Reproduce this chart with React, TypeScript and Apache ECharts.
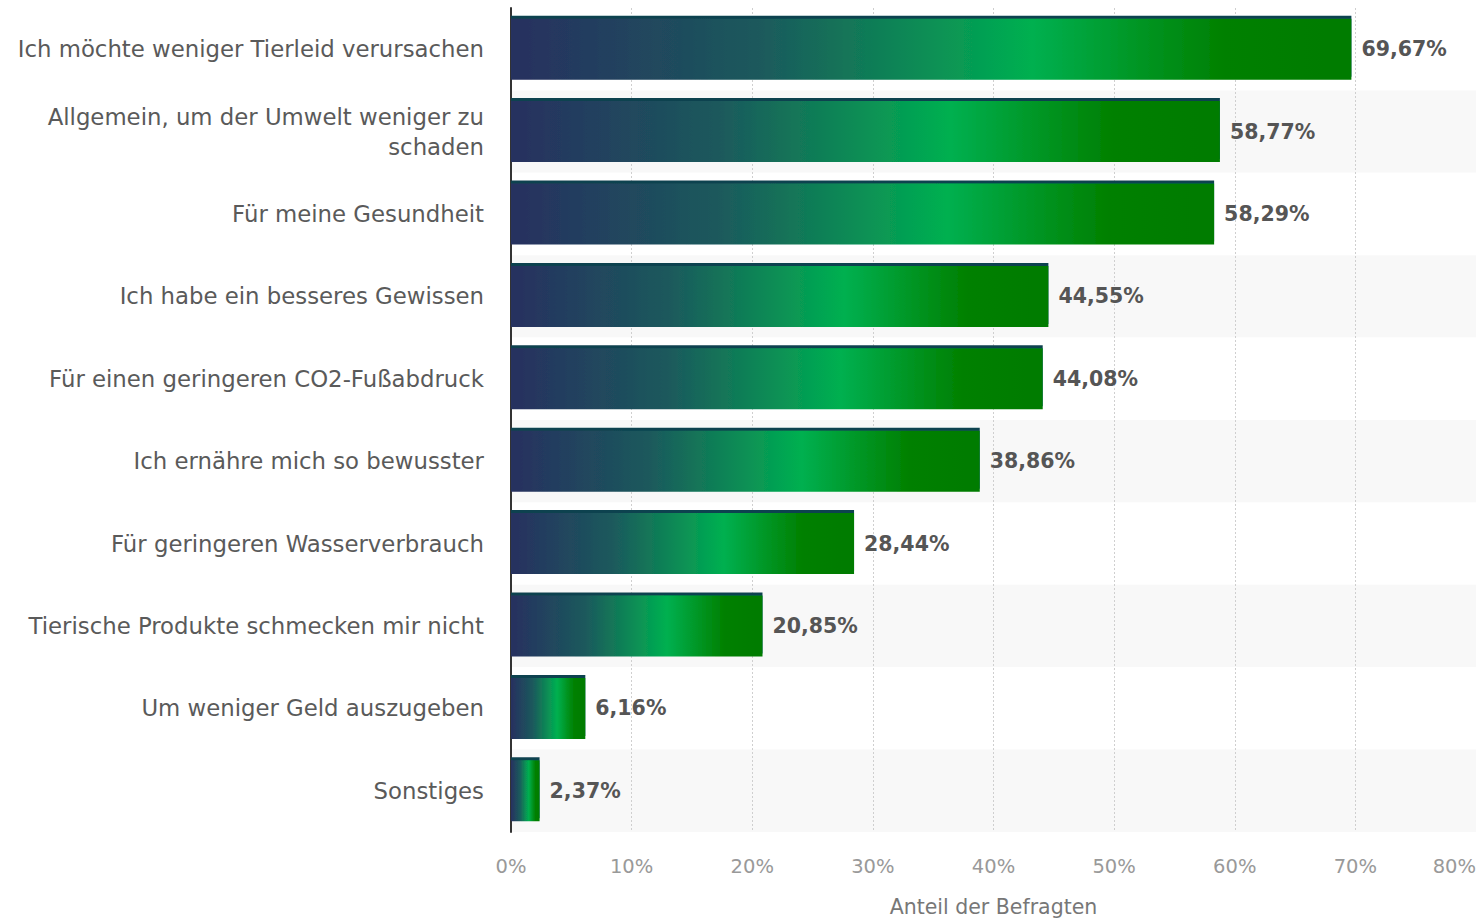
import React, { useEffect, useRef } from "react";
import * as echarts from "echarts";

const categories = [
  "Ich möchte weniger Tierleid verursachen",
  "Allgemein, um der Umwelt weniger zu\nschaden",
  "Für meine Gesundheit",
  "Ich habe ein besseres Gewissen",
  "Für einen geringeren CO2-Fußabdruck",
  "Ich ernähre mich so bewusster",
  "Für geringeren Wasserverbrauch",
  "Tierische Produkte schmecken mir nicht",
  "Um weniger Geld auszugeben",
  "Sonstiges",
];
const values = [69.67, 58.77, 58.29, 44.55, 44.08, 38.86, 28.44, 20.85, 6.16, 2.37];
const xTicks = [0, 10, 20, 30, 40, 50, 60, 70, 80];
const axisTitle = "Anteil der Befragten";

export default function App() {
  const ref = useRef<HTMLDivElement>(null);
  useEffect(() => {
    document.documentElement.style.overflow = "hidden";
    document.body.style.margin = "0";
    document.body.style.overflow = "hidden";
    const chart = echarts.init(ref.current!, undefined, { renderer: "svg" });
    const grad = new echarts.graphic.LinearGradient(0, 0, 1, 0, [
      { offset: 0, color: "#27305f" },
      { offset: 0.3, color: "#1b5a5c" },
      { offset: 0.62, color: "#00b050" },
      { offset: 0.85, color: "#008000" },
      { offset: 1, color: "#007b00" },
    ]);
    chart.setOption({
      animation: false,
      grid: {
        left: 511,
        width: 965,
        top: 8,
        bottom: 89,
        containLabel: false,
        outerBoundsMode: "none",
      },
      xAxis: {
        type: "value",
        min: xTicks[0],
        max: xTicks[xTicks.length - 1],
        interval: 10,
        name: axisTitle,
        nameLocation: "middle",
        nameGap: 64,
        nameTextStyle: { color: "#777", fontSize: 20.5, fontFamily: "DejaVu Sans" },
        axisLine: { show: false },
        axisTick: { show: false },
        axisLabel: {
          color: "#999",
          fontSize: 19.5,
          fontFamily: "DejaVu Sans",
          margin: 24,
          alignMaxLabel: "right",
          formatter: (v: number) => `${v}%`,
        },
        splitLine: {
          show: true,
          lineStyle: { color: "#cfcfcf", type: [2, 2], width: 1 },
        },
      },
      yAxis: {
        type: "category",
        data: categories,
        inverse: true,
        axisLine: { show: true, lineStyle: { color: "#333", width: 2 } },
        axisTick: { show: false },
        axisLabel: {
          color: "#5a5a5a",
          fontSize: 22.8,
          fontFamily: "DejaVu Sans",
          margin: 27,
          align: "right",
          lineHeight: 30,
        },
        splitArea: { show: true, areaStyle: { color: ["#ffffff", "#f8f8f8"] } },
      },
      series: [
        {
          type: "bar",
          data: values,
          barWidth: "74%",
          itemStyle: {
            color: grad,
            shadowColor: "#0b4350",
            shadowBlur: 0,
            shadowOffsetY: -3,
            shadowOffsetX: 0,
          },
          label: {
            show: true,
            position: "right",
            distance: 10,
            color: "#555",
            fontSize: 20.5,
            fontWeight: "bold",
            fontFamily: "DejaVu Sans",
            formatter: (p: any) => `${p.value.toFixed(2).replace(".", ",")}%`,
          },
        },
      ],
    });
    return () => chart.dispose();
  }, []);
  return (
    <div
      ref={ref}
      style={{ position: "absolute", left: 0, top: 0, width: 1476, height: 921, background: "#fff" }}
    />
  );
}
